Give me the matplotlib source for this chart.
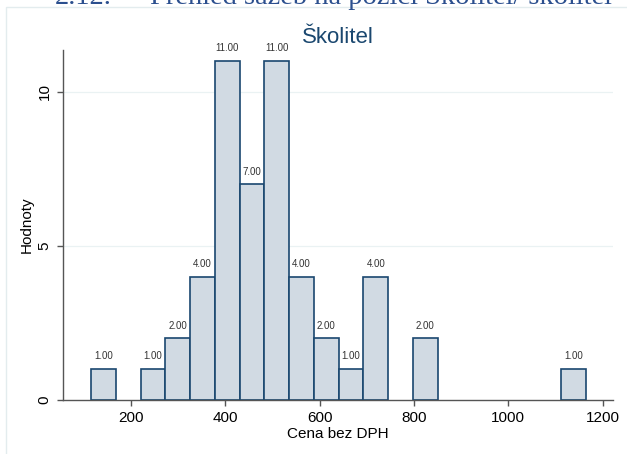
import numpy as np
import matplotlib
matplotlib.use("Agg")
import matplotlib.pyplot as plt
from matplotlib.patches import Rectangle

# histogram bins (20 bins, width 52.5) and counts
bin_start = 115
bin_width = 52.5
counts = [1, 0, 1, 2, 4, 11, 7, 11, 4, 2, 1, 4, 0, 2, 0, 0, 0, 0, 0, 1]
x_ticks = [200, 400, 600, 800, 1000, 1200]
y_ticks = [0, 5, 10]

title = "Školitel"
xlabel = "Cena bez DPH"
ylabel = "Hodnoty"
heading_num = "2.12."
heading = "Přehled sazeb na pozici Školitel/ školitel"

navy = "#1a476f"
fill = "#d1dae3"

edges = bin_start + bin_width * np.arange(len(counts) + 1)
lefts = edges[:-1]

plt.rcParams["font.family"] = ["Liberation Sans", "DejaVu Sans"]

fig = plt.figure(figsize=(6.27, 4.54), dpi=100)
fig.patch.set_facecolor("white")

# cut-off document heading above the graph (it is clipped in the source too)
base_y = 1 - 4.5 / 454
fig.text(55 / 627, base_y, heading_num, fontsize=20.5, color="#2b4f8e",
         family="Liberation Serif", ha="left", va="baseline")
fig.text(150 / 627, base_y, heading, fontsize=20.5, color="#2b4f8e",
         family="Liberation Serif", ha="left", va="baseline")

# faint frame of the embedded graph
fig.patches.append(Rectangle((6 / 627, -0.1), 1.2, (454 - 7.5) / 454 + 0.1,
                             transform=fig.transFigure, fill=False,
                             edgecolor="#e3ecee", linewidth=1.0))

ax = fig.add_axes([62.7 / 627, 54 / 454, (613 - 62.7) / 627, 350 / 454])
ax.set_facecolor("white")

for y in [5, 10]:
    ax.axhline(y, color="#eaf2f3", linewidth=0.9, zorder=0)

nz = [i for i, c in enumerate(counts) if c > 0]
ax.bar([lefts[i] for i in nz], [counts[i] for i in nz], width=bin_width,
       align="edge", color=fill, edgecolor=navy, linewidth=1.2, zorder=2)

for i in nz:
    ax.text(lefts[i] + bin_width / 2, counts[i] + 0.25, f"{counts[i]:.2f}",
            ha="center", va="bottom", fontsize=7, color="#333333")

ax.set_xlim(55, 1222)
ax.set_ylim(0, 11.36)
ax.set_xticks(x_ticks)
ax.set_yticks(y_ticks)
ax.set_yticklabels([str(v) for v in y_ticks], rotation=90, va="center")

for s in ["top", "right"]:
    ax.spines[s].set_visible(False)
for s in ["left", "bottom"]:
    ax.spines[s].set_color("#555555")
    ax.spines[s].set_linewidth(1.0)
ax.tick_params(axis="both", colors="#555555", labelcolor="black",
               labelsize=11, length=4.5, width=1.0)

ax.set_title(title, fontsize=16, color=navy, pad=5)
ax.set_xlabel(xlabel, fontsize=11, labelpad=1)
ax.set_ylabel(ylabel, fontsize=11, labelpad=3)

fig.savefig("out.png", dpi=100)
